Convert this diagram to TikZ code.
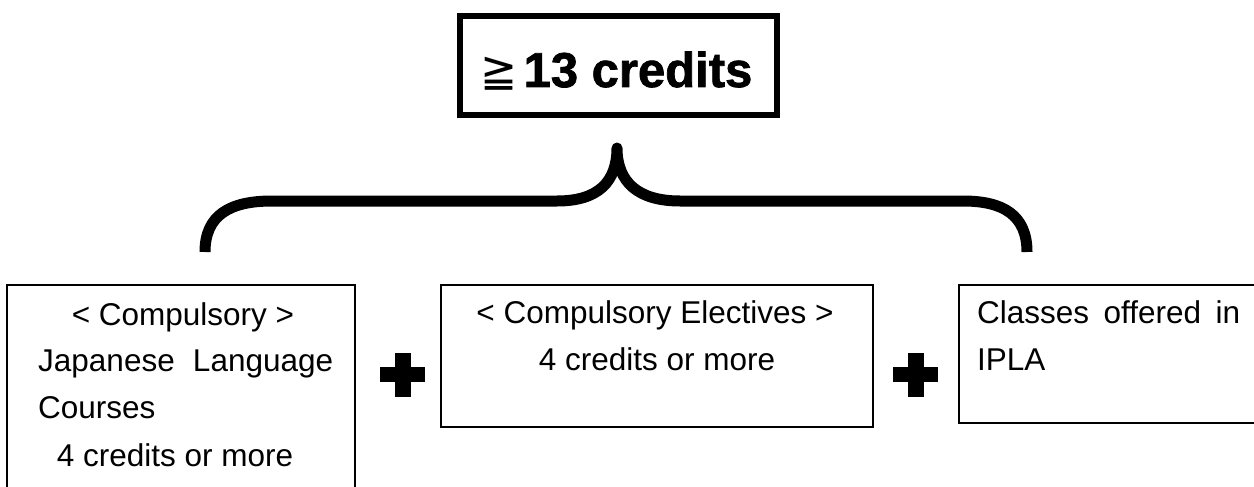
\documentclass[tikz,border=0pt]{standalone}
\usepackage{fontspec}
\setmainfont{Liberation Sans}
\newfontfamily\symfont{DejaVu Sans}
\newfontfamily\titlefont[FakeBold=1.5]{Liberation Sans}
\begin{document}
\begin{tikzpicture}[x=1pt,y=-1pt,
  box/.style={draw, line width=1.5pt, inner sep=0pt},
  txt/.style={inner sep=0pt, font=\fontsize{31.5}{38}\selectfont},
  plusmark/.style={fill=black},
  bracepath/.style={line width=11pt, line join=round}]
\useasboundingbox (0,0) rectangle (1254,487);
% title box
\node[draw, line width=6pt, minimum width=317pt, minimum height=99pt, inner sep=0pt] (title) at (618.5,65.5) {};
\node[inner sep=0pt, anchor=base] (titletext) at (616.5,87)
  {\raisebox{0pt}{\scalebox{1.3}[1.35]{\symfont\fontsize{34}{40}\selectfont ≧}}\hspace{6pt}{\titlefont\bfseries\fontsize{49}{58}\selectfont 13 credits}};
% brace
\draw[bracepath] (205,252) .. controls (205,215) and (230,201) .. (272,201)
  -- (557,201) .. controls (598,201) and (617,182) .. (617,148)
  .. controls (617,182) and (638,201) .. (680,201)
  -- (963,201) .. controls (1003,201) and (1027,215) .. (1027,252);
% boxes
\node[box, minimum width=348pt, minimum height=215pt] (lbox) at (181,392.5) {};
\node[box, minimum width=432pt, minimum height=142pt] (mbox) at (657,356) {};
\node[box, minimum width=311pt, minimum height=138pt] (rbox) at (1114.5,354) {};
% left texts
\node[txt, anchor=base] (l1) at (183,325) {< Compulsory >};
\node[txt, anchor=base west] (l2) at (38,371) {\makebox[295pt][s]{Japanese Language}};
\node[txt, anchor=base west] (l3) at (38,418) {Courses};
\node[txt, anchor=base] (l4) at (175,466) {4 credits or more};
% middle texts
\node[txt, anchor=base] (m1) at (655,323) {< Compulsory Electives >};
\node[txt, anchor=base] (m2) at (657,370) {4 credits or more};
% right texts
\node[txt, anchor=base west] (r1) at (977,323) {\makebox[263pt][s]{Classes offered in}};
\node[txt, anchor=base west] (r2) at (977,370) {IPLA};
% plus signs
\fill[plusmark] (380,367) rectangle (425,382);
\fill[plusmark] (395,353) rectangle (411,397);
\fill[plusmark] (893,367) rectangle (938,382);
\fill[plusmark] (908,353) rectangle (924,397);
\end{tikzpicture}
\end{document}
